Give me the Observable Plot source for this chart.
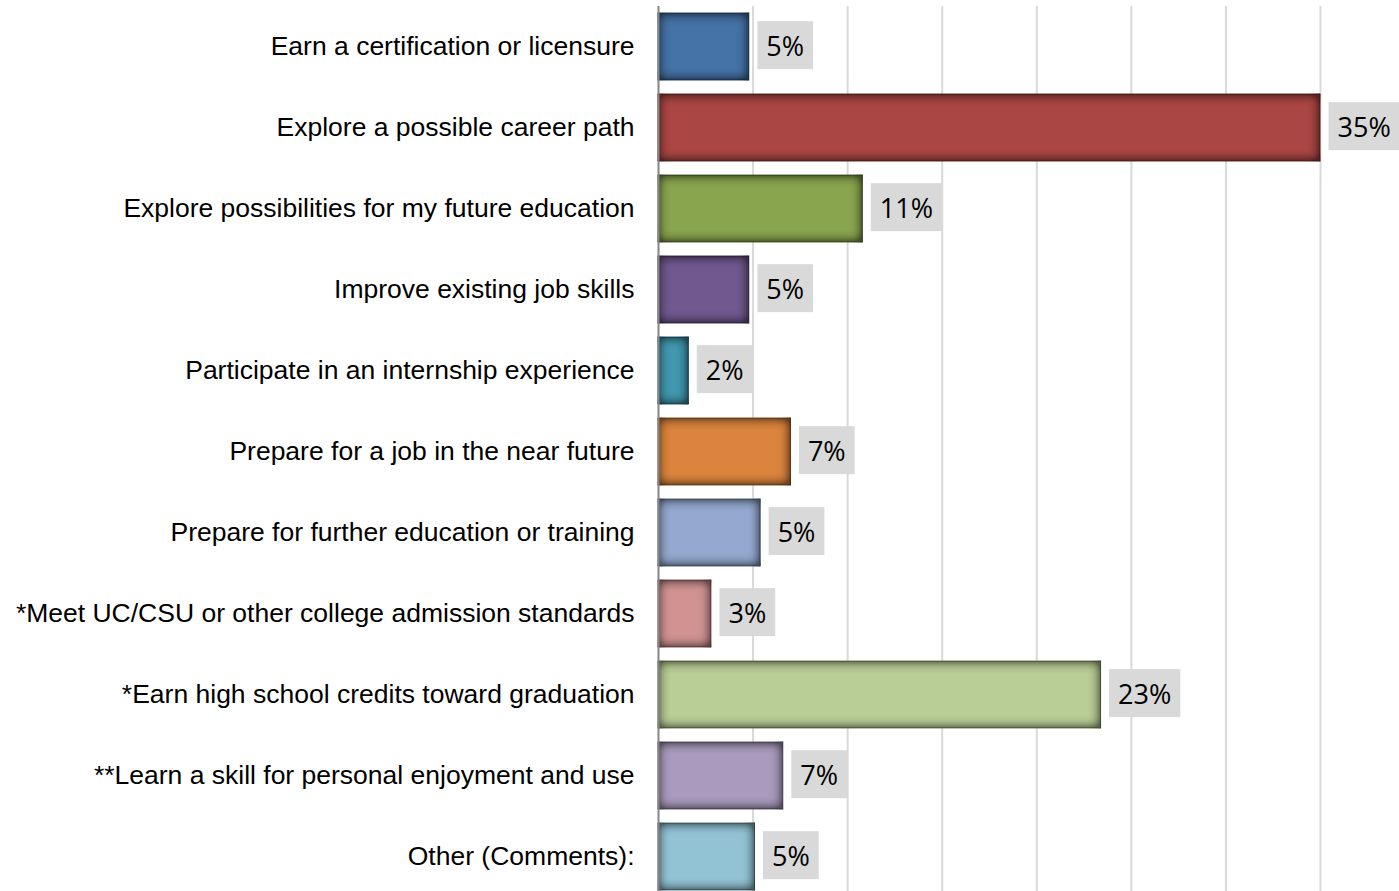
<!DOCTYPE html>
<html>
<head>
<meta charset="utf-8">
<script src="https://cdn.jsdelivr.net/npm/d3@7"></script>
<script src="https://cdn.jsdelivr.net/npm/@observablehq/plot@0.6"></script>
<style>
  html, body { margin: 0; padding: 0; background: #fff; overflow: hidden; }
  #chart svg { display: block; }
</style>
</head>
<body>
<svg width="0" height="0" style="position:absolute">
  <defs>
    <filter id="innerShadowBars" x="-10%" y="-10%" width="120%" height="120%" color-interpolation-filters="sRGB">
      <feGaussianBlur in="SourceAlpha" stdDeviation="6" result="blur"/>
      <feComposite in="SourceAlpha" in2="blur" operator="arithmetic" k1="0" k2="2" k3="-2" k4="0" result="edge"/>
      <feFlood flood-color="#000000" flood-opacity="0.5" result="col"/>
      <feComposite in="col" in2="edge" operator="in" result="shadow"/>
      <feMerge>
        <feMergeNode in="SourceGraphic"/>
        <feMergeNode in="shadow"/>
      </feMerge>
    </filter>
  </defs>
</svg>
<div id="chart"></div>
<script>
const categories = [
  "Earn a certification or licensure",
  "Explore a possible career path",
  "Explore possibilities for my future education",
  "Improve existing job skills",
  "Participate in an internship experience",
  "Prepare for a job in the near future",
  "Prepare for further education or training",
  "*Meet UC/CSU or other college admission standards",
  "*Earn high school credits toward graduation",
  "**Learn a skill for personal enjoyment and use",
  "Other (Comments):"
];
const values = [4.8, 35.0, 10.8, 4.8, 1.6, 7.0, 5.4, 2.8, 23.4, 6.6, 5.1];
const valueLabels = ["5%", "35%", "11%", "5%", "2%", "7%", "5%", "3%", "23%", "7%", "5%"];
const colors = ["#4572A7", "#AA4643", "#89A54E", "#71588F", "#4198AF", "#DB843D", "#93A9CF", "#D19392", "#B9CD96", "#A99BBD", "#92C3D5"];
const gridTicks = [5, 10, 15, 20, 25, 30, 35];

const data = categories.map((c, i) => ({category: c, value: values[i], label: valueLabels[i], color: colors[i]}));

const plot = Plot.plot({
  width: 1399,
  height: 898,
  marginLeft: 658,
  marginRight: 79,
  marginTop: 6,
  marginBottom: 0,
  x: {domain: [0, 35], axis: null},
  y: {domain: categories, paddingInner: 0.17, paddingOuter: 0.085, label: null},
  style: {fontFamily: "'Liberation Sans', Arial, sans-serif", background: "#fff"},
  marks: [
    Plot.ruleX(gridTicks, {stroke: "#d9d9d9", strokeWidth: 2}),
    Plot.barX(data, {
      y: "category", x: "value",
      fill: "color",
      stroke: d => d3.color(d.color).darker(1.2).formatHex(),
      strokeWidth: 1
    }),
    Plot.ruleX([0], {stroke: "#868686", strokeWidth: 2}),
    Plot.text(data, {
      y: "category", x: "value", text: "label",
      textAnchor: "start", dx: 17,
      fontSize: 27, fill: "#000",
      fontFamily: "'Open Sans', sans-serif"
    }),
    Plot.axisY({tickSize: 0, tickPadding: 24, fontSize: 26.5, label: null, fill: "#000", color: "#000"})
  ]
});

document.getElementById("chart").appendChild(plot);

const svg = d3.select(plot);

// Inner shadow on each bar
svg.selectAll("rect").each(function() {
  this.setAttribute("filter", "url(#innerShadowBars)");
  this.style.filter = "url(#innerShadowBars)";
});

// Gray background boxes behind value labels
svg.selectAll("g[aria-label='text'] text").each(function() {
  const bb = this.getBBox();
  const padX = 9;
  const h = 48;
  const cy = bb.y + bb.height / 2;
  const rect = document.createElementNS("http://www.w3.org/2000/svg", "rect");
  rect.setAttribute("x", bb.x - padX);
  rect.setAttribute("y", cy - h / 2);
  rect.setAttribute("width", bb.width + 2 * padX);
  rect.setAttribute("height", h);
  rect.setAttribute("fill", "#d9d9d9");
  const t = this.getAttribute("transform");
  if (t) rect.setAttribute("transform", t);
  this.parentNode.insertBefore(rect, this);
});
</script>
</body>
</html>
